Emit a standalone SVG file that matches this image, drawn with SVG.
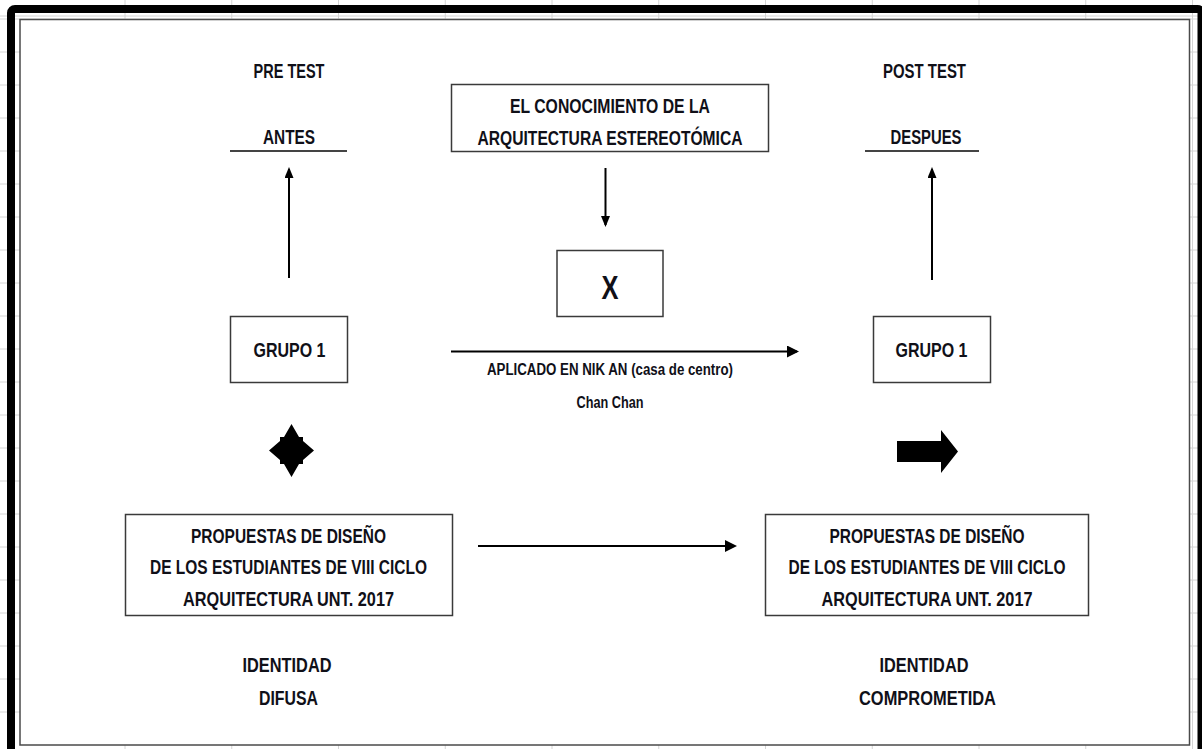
<svg xmlns="http://www.w3.org/2000/svg" width="1202" height="749" viewBox="0 0 1202 749">
<defs>
<style>
.t{font-family:"Liberation Sans",Arial,sans-serif;font-weight:bold;font-size:19.5px;fill:#101018;text-anchor:middle}
.s{font-size:16px}
.box{fill:#fff;stroke:#3a3a3a;stroke-width:1.5}
.grid{fill:none;stroke:#d4d4d4;stroke-width:1}
.c{fill:none;stroke:#000;stroke-width:2}
.sh{fill:#000}
</style>
<marker id="ah" markerUnits="userSpaceOnUse" markerWidth="12" markerHeight="10" refX="9" refY="4.5" orient="auto">
<path d="M0,0 L11,4.5 L0,9 z" fill="#000"/>
</marker>
<marker id="ah2" markerUnits="userSpaceOnUse" markerWidth="13" markerHeight="12" refX="10" refY="6" orient="auto">
<path d="M0,0 L12,6 L0,12 z" fill="#000"/>
</marker>
</defs>
<rect width="1202" height="749" fill="#fff"/>
<path class="grid" d="M125,0V749 M231.75,0V749 M338.5,0V749 M445.25,0V749 M552,0V749 M658.75,0V749 M765.5,0V749 M872.25,0V749 M979,0V749 M1085.75,0V749 M1192.5,0V749 M0,16H1202 M0,19H1202 M0,52H1202 M0,85H1202 M0,118H1202 M0,151H1202 M0,184H1202 M0,217H1202 M0,250H1202 M0,283H1202 M0,316H1202 M0,349H1202 M0,382H1202 M0,415H1202 M0,448H1202 M0,481H1202 M0,514H1202 M0,547H1202 M0,580H1202 M0,613H1202 M0,646H1202 M0,679H1202 M0,712H1202"/>
<rect x="20" y="19.5" width="1169.5" height="725.5" fill="#fff" stroke="#4a4a4a" stroke-width="1.5"/>
<rect x="11" y="9" width="1190.5" height="760" rx="4" fill="none" stroke="#000" stroke-width="8"/>

<g id="pre-test">
<text class="t" x="289" y="77.5" textLength="71" lengthAdjust="spacingAndGlyphs">PRE TEST</text>
<text class="t" x="289" y="144" textLength="52" lengthAdjust="spacingAndGlyphs">ANTES</text>
<line x1="230" y1="151" x2="347" y2="151" stroke="#444" stroke-width="2"/>
</g>
<g id="post-test">
<text class="t" x="924.5" y="77.5" textLength="83" lengthAdjust="spacingAndGlyphs">POST TEST</text>
<text class="t" x="926" y="144" textLength="71" lengthAdjust="spacingAndGlyphs">DESPUES</text>
<line x1="865" y1="151" x2="979" y2="151" stroke="#444" stroke-width="2"/>
</g>
<g id="conocimiento">
<rect class="box" x="451.5" y="84.5" width="317" height="67"/>
<text class="t" x="610" y="112.5" textLength="200" lengthAdjust="spacingAndGlyphs">EL CONOCIMIENTO DE LA</text>
<text class="t" x="610" y="145" textLength="265" lengthAdjust="spacingAndGlyphs">ARQUITECTURA ESTEREOTÓMICA</text>
</g>
<g id="x-box">
<rect class="box" x="557" y="250.5" width="106" height="66"/>
<text class="t" x="610" y="299" style="font-size:34px" textLength="17" lengthAdjust="spacingAndGlyphs">X</text>
</g>
<g id="grupo-1-pre">
<rect class="box" x="230.5" y="316.5" width="117" height="66"/>
<text class="t" x="289.5" y="357" textLength="72" lengthAdjust="spacingAndGlyphs">GRUPO 1</text>
</g>
<g id="grupo-1-post">
<rect class="box" x="873.5" y="316.5" width="117" height="66"/>
<text class="t" x="931.5" y="357" textLength="72" lengthAdjust="spacingAndGlyphs">GRUPO 1</text>
</g>
<g id="aplicado">
<text class="t s" x="610" y="374.5" textLength="246" lengthAdjust="spacingAndGlyphs">APLICADO EN NIK AN (casa de centro)</text>
<text class="t s" x="610" y="408" textLength="67" lengthAdjust="spacingAndGlyphs">Chan Chan</text>
</g>
<g id="four-way-arrow">
<polygon class="sh" points="284,437 291.5,424 299,437 303,437 303,441 314,450.5 303,460 303,464 299,464 291.5,477 284,464 280,464 280,460 269,450.5 280,441 280,437"/>
</g>
<g id="block-arrow">
<polygon class="sh" points="897,441 941,441 941,430 958,451.5 941,473 941,462 897,462"/>
</g>
<g id="propuestas-pre">
<rect class="box" x="125.5" y="514.5" width="327" height="101"/>
<text class="t" x="288.5" y="543" textLength="195" lengthAdjust="spacingAndGlyphs">PROPUESTAS DE DISEÑO</text>
<text class="t" x="288.5" y="573.5" textLength="277" lengthAdjust="spacingAndGlyphs">DE LOS ESTUDIANTES DE VIII CICLO</text>
<text class="t" x="288.5" y="605.5" textLength="211" lengthAdjust="spacingAndGlyphs">ARQUITECTURA UNT. 2017</text>
</g>
<g id="propuestas-post">
<rect class="box" x="765.5" y="514.5" width="323" height="101"/>
<text class="t" x="927" y="543" textLength="195" lengthAdjust="spacingAndGlyphs">PROPUESTAS DE DISEÑO</text>
<text class="t" x="927" y="573.5" textLength="277" lengthAdjust="spacingAndGlyphs">DE LOS ESTUDIANTES DE VIII CICLO</text>
<text class="t" x="927" y="605.5" textLength="211" lengthAdjust="spacingAndGlyphs">ARQUITECTURA UNT. 2017</text>
</g>
<g id="identidad-difusa">
<text class="t" x="287" y="672" textLength="89" lengthAdjust="spacingAndGlyphs">IDENTIDAD</text>
<text class="t" x="288.5" y="705" textLength="59" lengthAdjust="spacingAndGlyphs">DIFUSA</text>
</g>
<g id="identidad-comprometida">
<text class="t" x="924" y="672" textLength="89" lengthAdjust="spacingAndGlyphs">IDENTIDAD</text>
<text class="t" x="927.5" y="705" textLength="137" lengthAdjust="spacingAndGlyphs">COMPROMETIDA</text>
</g>

<g id="connectors">
<line class="c" x1="289" y1="278" x2="289" y2="169" marker-end="url(#ah)"/>
<line class="c" x1="932" y1="280" x2="932" y2="169" marker-end="url(#ah)"/>
<line class="c" x1="605.5" y1="168" x2="605.5" y2="225" marker-end="url(#ah)"/>
<line class="c" x1="451" y1="351.5" x2="797" y2="351.5" stroke-width="3" marker-end="url(#ah2)"/>
<line class="c" x1="478" y1="546" x2="735" y2="546" stroke-width="2.5" marker-end="url(#ah2)"/>
</g>
</svg>
